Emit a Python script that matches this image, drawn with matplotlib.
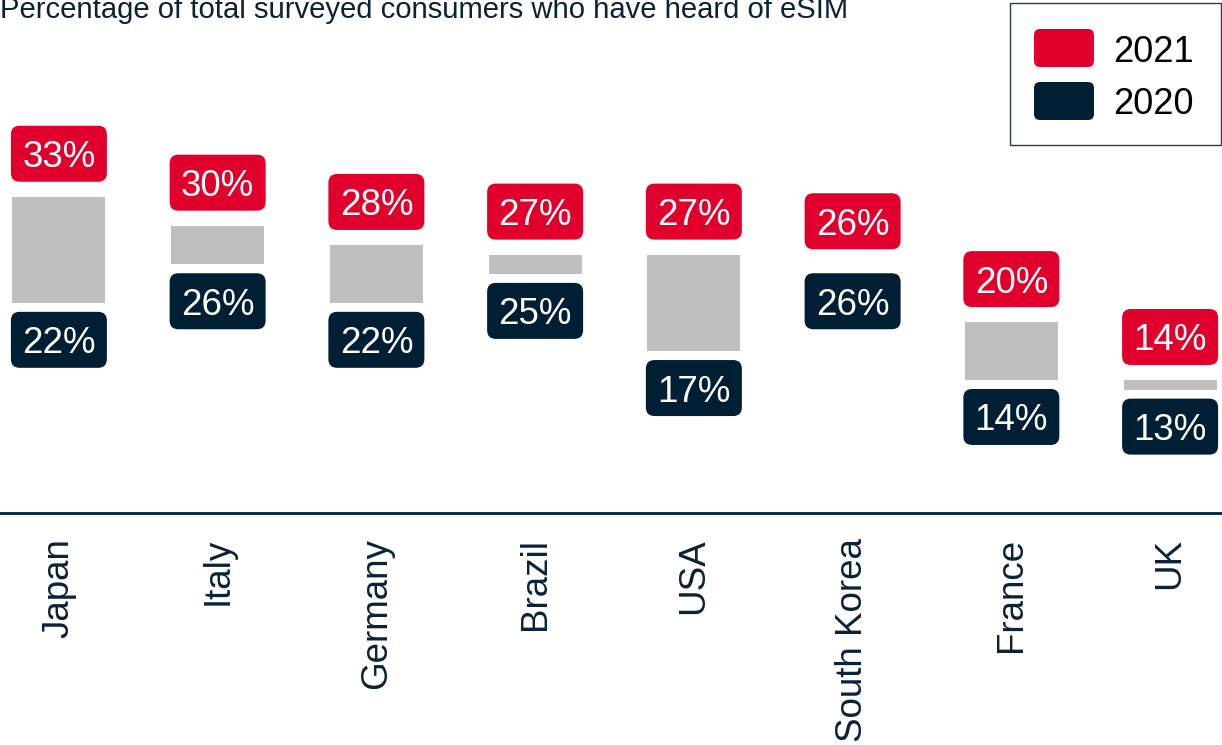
import matplotlib
matplotlib.use("Agg")
import matplotlib.pyplot as plt
from matplotlib.patches import FancyBboxPatch, Rectangle
import numpy as np

# data
countries = ["Japan", "Italy", "Germany", "Brazil", "USA", "South Korea", "France", "UK"]
pct_2021 = [33, 30, 28, 27, 27, 26, 20, 14]
pct_2020 = [22, 26, 22, 25, 17, 26, 14, 13]
years = ["2021", "2020"]

RED = "#E0002B"
NAVY = "#001E34"
GRAY = "#BFBFBF"
TXT = "#0B2236"

plt.rcParams["font.family"] = ["Liberation Sans", "DejaVu Sans"]

W, H = 1222, 745
fig = plt.figure(figsize=(W / 100, H / 100), dpi=100)
zero_px = 515
ax = fig.add_axes([0, (H - zero_px) / H, 1, zero_px / H])

x = np.arange(len(countries))
lo = np.array(pct_2020)
hi = np.array(pct_2021)

xmin, xmax = -0.371, 7.327
ymax = 53.4
ax.set_xlim(xmin, xmax)
ax.set_ylim(0, ymax)

ax.bar(x, hi - lo, bottom=lo, width=0.585, color=GRAY, zorder=1)

# label boxes
px_x = W / (xmax - xmin)
px_y = zero_px / ymax
bw = 96 / px_x
bh = 56 / px_y
asp = px_x / px_y
for xi, v21, v20 in zip(x, pct_2021, pct_2020):
    for val, off, col in [(v21, 43, RED), (v20, -37, NAVY)]:
        cy = val + off / px_y
        box = FancyBboxPatch((xi - bw / 2, cy - bh / 2), bw, bh,
                             boxstyle="round,pad=0,rounding_size=0.055",
                             mutation_aspect=asp, facecolor=col,
                             edgecolor="none", zorder=2, clip_on=False)
        ax.add_patch(box)
        ax.text(xi, cy, f"{val}%", color="white", fontsize=26.5,
                ha="center", va="center_baseline", zorder=3)

for s in ["top", "left", "right"]:
    ax.spines[s].set_visible(False)
ax.spines["bottom"].set_color(NAVY)
ax.spines["bottom"].set_linewidth(2)
ax.spines["bottom"].set_position(("data", 0.2))

ax.set_xticks(x, countries, rotation=90, fontsize=26.5, color=TXT)
ax.tick_params(axis="x", length=0, pad=18)
ax.set_yticks([])

fig.text(0.0, 1 - 18 / H, "Percentage of total surveyed consumers who have heard of eSIM",
         fontsize=21.1, color=TXT, ha="left", va="baseline")

# legend
fig.add_artist(Rectangle((1010 / W, 1 - 145 / H), 211 / W, 142 / H,
                         transform=fig.transFigure, facecolor="white",
                         edgecolor="#2E3D4C", lw=1))
for i, (yr, col) in enumerate(zip(years, [RED, NAVY])):
    top = 29 + i * 53
    fig.add_artist(FancyBboxPatch((1034 / W, 1 - (top + 38) / H), 60 / W, 38 / H,
                                  boxstyle="round,pad=0,rounding_size=0.005",
                                  mutation_aspect=W / H, transform=fig.transFigure,
                                  facecolor=col, edgecolor="none"))
    fig.text(1113 / W, 1 - (top + 19) / H, yr, fontsize=26, color="black",
             ha="left", va="center_baseline")

fig.savefig("out.png", dpi=100)
